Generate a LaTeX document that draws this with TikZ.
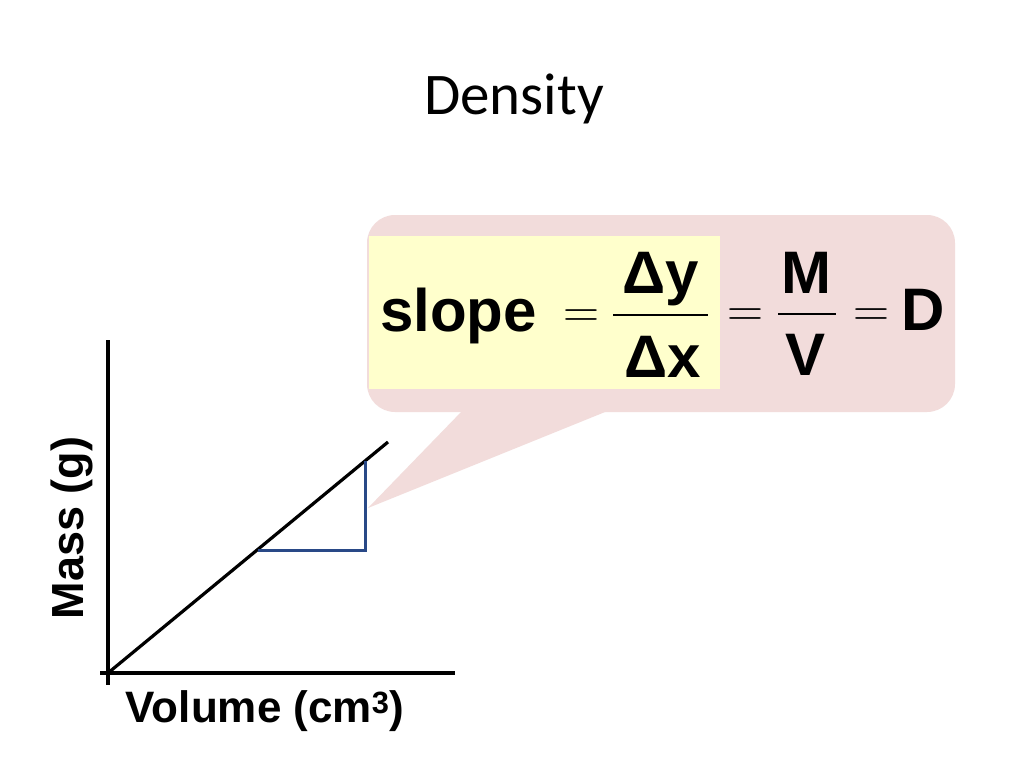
\documentclass[tikz,border=0pt]{standalone}
\usepackage{fontspec}
\setmainfont{Liberation Sans}
\newfontfamily\titlefont{Carlito}
\newfontfamily\eqfont{Latin Modern Roman}
\definecolor{calloutpink}{RGB}{242,220,219}
\definecolor{eqyellow}{RGB}{255,255,204}
\definecolor{triblue}{RGB}{41,73,135}
\tikzset{
  txt/.style={inner sep=0pt, anchor=base},
  big/.style={txt, font=\fontsize{60bp}{72bp}\selectfont\bfseries},
  eqsign/.style={txt, font=\eqfont\fontsize{50bp}{60bp}\selectfont},
  axis/.style={line width=3.5bp, black},
  graphline/.style={line width=3.2bp, black},
  tri/.style={line width=3bp, triblue},
  fracbar/.style={line width=2.6bp, black},
  axlabel/.style={inner sep=0pt, font=\fontsize{45bp}{52bp}\selectfont\bfseries}
}
\begin{document}
\begin{tikzpicture}[x=1bp,y=-1bp]
\useasboundingbox (0,0) rectangle (1024,768);
\fill[white] (0,0) rectangle (1024,768);
% title
\node[txt, font=\titlefont\fontsize{59bp}{66bp}\selectfont] (title) at (514,114) {Density};
% callout
\fill[calloutpink, rounded corners=28bp] (367,215) rectangle (955,412);
\coordinate (tailA) at (463,410);
\coordinate (tailB) at (610,410);
\coordinate (tip) at (368,508);
\fill[calloutpink] (tailA) -- (tip) -- (tailB) -- cycle;
\fill[eqyellow] (369,236) rectangle (720,389);
% equation
\node[big, anchor=base west] (slope) at (380,331) {slope};
\node[eqsign] (eq1) at (581.5,327) {=};
\node[big] (dy) at (661,293) {Δy};
\node[big] (dx) at (663,377) {Δx};
\coordinate (bar1a) at (613,315);
\coordinate (bar1b) at (708,315);
\draw[fracbar] (bar1a) -- (bar1b);
\node[eqsign] (eq2) at (745,326) {=};
\node[big] (M) at (806.5,293) {M};
\node[big] (V) at (806,375) {V};
\coordinate (bar2a) at (778,314);
\coordinate (bar2b) at (836,314);
\draw[fracbar] (bar2a) -- (bar2b);
\node[eqsign] (eq3) at (871,326) {=};
\node[big, anchor=base west] (D) at (901,330) {D};
% axes
\coordinate (O) at (108,673);
\coordinate (ytop) at (108,340);
\coordinate (ybot) at (108,685);
\coordinate (xleft) at (100,673);
\coordinate (xright) at (455,673);
\coordinate (lend) at (388,442);
\draw[axis] (ytop) -- (ybot);
\draw[axis] (xleft) -- (xright);
\draw[graphline] (O) -- (lend);
\coordinate (t1) at (258,550);
\coordinate (t2) at (365,550);
\coordinate (t3) at (365,461);
\draw[tri] (t1) -- (t2) -- (t3);
% labels
\node[axlabel, anchor=base, rotate=90] (mass) at (83,528) {Mass (g)};
\node[axlabel, anchor=base, font=\fontsize{44bp}{52bp}\selectfont\bfseries] (vol) at (265,722) {Volume (cm\textsuperscript{3})};
\end{tikzpicture}
\end{document}
